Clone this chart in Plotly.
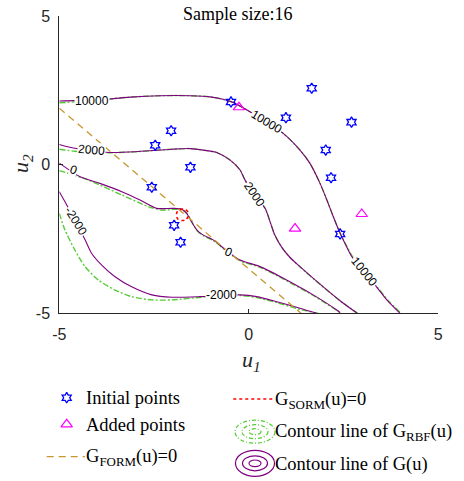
import plotly.graph_objects as go

W, H = 464, 481

# ---- sample points in standard normal space (u1, u2) ----
init_u1 = [-0.47, -2.05, -2.47, 1.66, 0.98, 2.71, 2.03, -1.54, -2.56, 2.17, -1.97, -1.80, 2.41]
init_u2 = [2.11, 1.14, 0.65, 2.57, 1.58, 1.43, 0.49, -0.09, -0.76, -0.44, -2.04, -2.61, -2.33]
added_u1 = [-0.26, 1.22, 2.98]
added_u2 = [1.93, -2.15, -1.66]

# ---- FORM linear limit state ----
form_u1 = [-5.0, 1.38]
form_u2 = [1.90, -5.0]

# ---- SORM approximation around the design point ----
sorm_u1 = [-1.60, -1.68, -1.82, -1.89, -1.91, -1.87, -1.76, -1.66, -1.60]
sorm_u2 = [-1.59, -1.51, -1.51, -1.59, -1.71, -1.83, -1.88, -1.85, -1.74]

# ---- contour lines of the true performance function G(u) ----
g10000_u1 = [-5.00, -4.20, -3.66, -3.13, -2.34, -1.55, -1.02, -0.47, 0.03, 0.90, 1.35, 1.61, 1.88, 2.06, 2.23, 2.41, 2.58, 2.72, 3.37, 3.64, 3.99]
g10000_u2 = [2.14, 2.17, 2.21, 2.27, 2.32, 2.32, 2.28, 2.12, 1.78, 1.06, 0.49, 0.05, -0.63, -1.19, -1.75, -2.31, -2.76, -3.10, -4.11, -4.55, -5.00]

g2000_u1 = [-5.00, -4.59, -3.66, -2.92, -2.03, -1.55, -1.16, -0.85, -0.50, -0.23, -0.10, 0.16, 0.43, 0.57, 0.68, 0.88, 1.10, 1.35, 1.88, 2.45, 2.85]
g2000_u2 = [0.68, 0.55, 0.41, 0.44, 0.52, 0.54, 0.48, 0.41, 0.16, -0.18, -0.52, -1.02, -1.47, -1.95, -2.35, -2.80, -3.14, -3.43, -4.02, -4.62, -4.99]

g0_u1 = [-5.00, -4.45, -3.93, -3.35, -2.87, -2.43, -2.00, -1.77, -1.64, -1.51, -1.37, -1.20, -0.94, -0.55, -0.23, 0.30, 0.91, 1.70, 2.32, 2.41]
g0_u2 = [0.05, -0.41, -0.63, -0.91, -1.19, -1.47, -1.47, -1.50, -1.64, -1.92, -2.20, -2.37, -2.53, -2.93, -3.21, -3.43, -3.82, -4.38, -4.89, -4.98]

gm2000_u1 = [-5.00, -4.85, -4.32, -4.15, -3.88, -3.53, -3.09, -2.56, -2.03, -1.29, -0.72, -0.23, 0.21, 0.74, 1.35, 1.79]
gm2000_u2 = [-0.91, -1.25, -2.53, -2.98, -3.38, -3.77, -4.11, -4.38, -4.46, -4.44, -4.40, -4.38, -4.44, -4.61, -4.83, -5.00]

# ---- contour lines of the RBF surrogate G_RBF(u) ----
r10000_u1 = [-5.00, -4.59, -3.66, -3.13, -2.34, -1.55, -1.02, -0.47, 0.03, 0.90, 1.35, 1.61, 1.88, 2.06, 2.23, 2.41, 2.59, 2.74, 3.39, 3.67, 4.02]
r10000_u2 = [2.08, 2.11, 2.21, 2.27, 2.32, 2.32, 2.28, 2.12, 1.78, 1.06, 0.49, 0.05, -0.63, -1.19, -1.75, -2.31, -2.76, -3.10, -4.12, -4.56, -5.00]

r2000_u1 = [-5.00, -4.59, -3.66, -2.92, -2.03, -1.55, -1.16, -0.85, -0.50, -0.23, -0.10, 0.16, 0.43, 0.57, 0.68, 0.88, 1.10, 1.36, 1.90, 2.48, 2.88]
r2000_u2 = [0.52, 0.45, 0.40, 0.44, 0.52, 0.54, 0.48, 0.41, 0.16, -0.18, -0.52, -1.02, -1.47, -1.95, -2.35, -2.80, -3.14, -3.45, -4.05, -4.65, -5.00]

r0_u1 = [-5.00, -4.23, -3.35, -2.65, -2.30, -1.95, -1.77, -1.62, -1.49, -1.36, -1.19, -0.93, -0.54, -0.22, 0.31, 0.92, 1.71, 2.34, 2.43]
r0_u2 = [-0.20, -0.52, -1.02, -1.41, -1.53, -1.50, -1.51, -1.66, -1.96, -2.23, -2.40, -2.56, -2.96, -3.24, -3.46, -3.85, -4.41, -4.92, -5.00]

rm2000_u1 = [-5.00, -4.85, -4.59, -4.32, -3.97, -3.53, -3.09, -2.56, -2.03, -1.24, -0.72, -0.23, 0.21, 0.74, 1.35, 1.83]
rm2000_u2 = [-1.64, -2.20, -2.87, -3.43, -3.88, -4.22, -4.44, -4.55, -4.55, -4.46, -4.43, -4.40, -4.47, -4.64, -4.87, -5.00]

# ---- contour level labels: text, u1, u2, rotation ----
level_text = ["10000", "10000", "10000", "2000", "2000", "0", "0", "-2000", "-2000"]
level_u1 = [-4.15, 0.48, 3.05, -4.14, 0.14, -4.62, -0.54, -4.57, -0.71]
level_u2 = [2.14, 1.45, -3.62, 0.48, -0.99, -0.19, -2.95, -1.91, -4.40]
level_rot = [0, 31, 51, 5, 56, 20, 25, 58, 0]

PURPLE = "#800080"
GREEN = "#55cc33"
FORM_C = "#c8962e"
AXC = "#262626"
SERIF = "Liberation Serif, Times New Roman, serif"
SANS = "Liberation Sans, Arial, sans-serif"

fig = go.Figure()

rbf_sets = [(r10000_u1, r10000_u2), (r2000_u1, r2000_u2), (r0_u1, r0_u2), (rm2000_u1, rm2000_u2)]
g_sets = [(g10000_u1, g10000_u2), (g2000_u1, g2000_u2), (g0_u1, g0_u2), (gm2000_u1, gm2000_u2)]

for xs, ys in rbf_sets:
    fig.add_trace(go.Scatter(x=xs, y=ys, mode="lines",
                             line=dict(color=GREEN, width=1.4, dash="6px,2px,2px,2px",
                                       shape="spline", smoothing=0.7),
                             hoverinfo="skip"))
for xs, ys in g_sets:
    fig.add_trace(go.Scatter(x=xs, y=ys, mode="lines",
                             line=dict(color=PURPLE, width=1.1, shape="spline", smoothing=0.7),
                             hoverinfo="skip"))

fig.add_trace(go.Scatter(x=form_u1, y=form_u2, mode="lines",
                         line=dict(color=FORM_C, width=1.3, dash="7px,5px")))
fig.add_trace(go.Scatter(x=sorm_u1, y=sorm_u2, mode="lines",
                         line=dict(color="#ff0000", width=1.6, dash="dot", shape="spline")))

star = dict(symbol="hexagram-open", size=8, color="#0000ff", line=dict(width=1.3, color="#0000ff"))
tri = dict(symbol="triangle-up-open", size=10, color="#ff00ff", line=dict(width=1.2, color="#ff00ff"))
fig.add_trace(go.Scatter(x=init_u1, y=init_u2, mode="markers", marker=star))
fig.add_trace(go.Scatter(x=added_u1, y=added_u2, mode="markers", marker=tri))

annotations = []
for t, a, b, r in zip(level_text, level_u1, level_u2, level_rot):
    annotations.append(dict(x=a, y=b, xref="x", yref="y", text=t, showarrow=False,
                            textangle=r, bgcolor="white", borderpad=0,
                            xanchor="center", yanchor="middle",
                            font=dict(family=SANS, size=12, color="black")))

# title and axis titles
annotations.append(dict(x=237.7 / W, y=1 - 13.5 / H, xref="paper", yref="paper",
                        text="Sample size:16", showarrow=False, xanchor="center", yanchor="middle",
                        font=dict(family=SERIF, size=18, color="black")))
annotations.append(dict(x=251 / W, y=1 - 361 / H, xref="paper", yref="paper",
                        text="<i>u<sub>1</sub></i>", showarrow=False,
                        xanchor="center", yanchor="middle",
                        font=dict(family=SERIF, size=22, color=AXC)))
annotations.append(dict(x=22 / W, y=1 - 164 / H, xref="paper", yref="paper",
                        text="<i>u<sub>2</sub></i>", showarrow=False, textangle=-90,
                        xanchor="center", yanchor="middle",
                        font=dict(family=SERIF, size=22, color=AXC)))

# ---- legend drawn in its own pixel-scaled subplot ----
fig.add_trace(go.Scatter(x=[66.7], y=[397.7], xaxis="x2", yaxis="y2", mode="markers", marker=star))
fig.add_trace(go.Scatter(x=[66.7], y=[424.3], xaxis="x2", yaxis="y2", mode="markers", marker=tri))
fig.add_trace(go.Scatter(x=[46.7, 85], y=[456.7, 456.7], xaxis="x2", yaxis="y2", mode="lines",
                         line=dict(color=FORM_C, width=1.3, dash="7px,5px")))
fig.add_trace(go.Scatter(x=[233.3, 273.3], y=[399, 399], xaxis="x2", yaxis="y2", mode="lines",
                         line=dict(color="#ff0000", width=1.6, dash="dot")))

shapes = []
for cx, cy, col, dash, radii in [
    (255, 431.7, GREEN, "4px,2px,1px,2px", [(20, 11.5), (13, 7), (6, 3)]),
    (255, 463.3, PURPLE, "solid", [(19.5, 13), (12.5, 7.5), (6, 3.3)]),
]:
    for rx, ry in radii:
        shapes.append(dict(type="circle", xref="x2", yref="y2",
                           x0=cx - rx, x1=cx + rx, y0=cy - ry, y1=cy + ry,
                           line=dict(color=col, width=1.2, dash=dash)))

leg_items = [
    (84, 397.5, "Initial points"),
    (84, 425, "Added points"),
    (84, 457, "G<sub>FORM</sub>(u)=0"),
    (273, 400, "G<sub>SORM</sub>(u)=0"),
    (273, 432, "Contour line of G<sub>RBF</sub>(u)"),
    (273, 464.5, "Contour line of G(u)"),
]
for lx, ly, t in leg_items:
    annotations.append(dict(x=lx, y=ly, xref="x2", yref="y2", text=t, showarrow=False,
                            xanchor="left", yanchor="middle",
                            font=dict(family=SERIF, size=18.5, color="black")))

axis_common = dict(range=[-5, 5], tickvals=[-5, 0, 5], ticktext=["-5", "0", "5"],
                   ticks="inside", ticklen=4, tickcolor=AXC, tickwidth=1,
                   showline=True, linecolor=AXC, linewidth=1, showgrid=False, zeroline=False,
                   automargin=False,
                   tickfont=dict(family=SANS, size=16, color=AXC))

fig.update_layout(
    width=W, height=H, margin=dict(l=0, r=0, t=0, b=0, autoexpand=False),
    paper_bgcolor="white", plot_bgcolor="white", showlegend=False,
    xaxis=dict(domain=[59.3 / W, 438.3 / W], anchor="y", ticklabelstandoff=6, **axis_common),
    yaxis=dict(domain=[1 - 313.3 / H, 1 - 16 / H], anchor="x", ticklabelstandoff=5, **axis_common),
    xaxis2=dict(domain=[0, 1], range=[0, W], visible=False, anchor="y2", automargin=False),
    yaxis2=dict(domain=[0, 1 - 380 / H], range=[H, 380], visible=False, anchor="x2", automargin=False),
    annotations=annotations, shapes=shapes,
)

fig.write_html("out.html")
